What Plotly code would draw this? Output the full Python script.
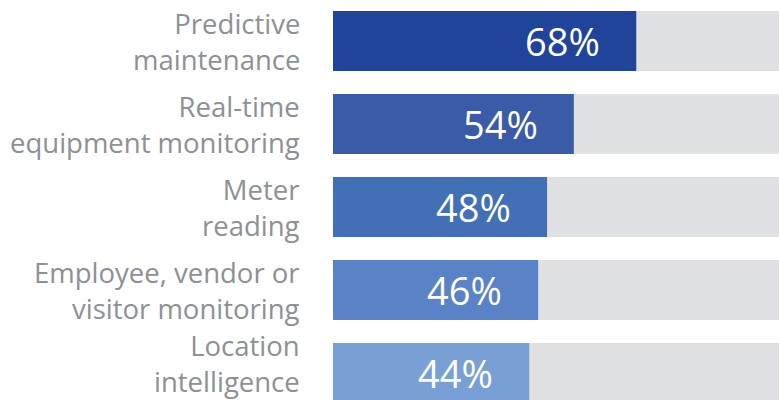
import plotly.graph_objects as go

categories = ["Predictive<br>maintenance", "Real-time<br>equipment monitoring", "Meter<br>reading",
              "Employee, vendor or<br>visitor monitoring", "Location<br>intelligence"]
values = [68, 54, 48, 46, 44]
totals = [100, 100, 100, 100, 100]
colors = ["#21449B", "#3A5BA8", "#426FB5", "#5983C6", "#79A0D4"]
value_labels = [f"{v}%" for v in values]

fig = go.Figure()
fig.add_trace(go.Bar(y=categories, x=totals, orientation="h", marker=dict(color="#E0E1E3", line=dict(width=0)),
                     width=0.723, hoverinfo="skip", showlegend=False))
fig.add_trace(go.Bar(y=categories, x=values, orientation="h", marker=dict(color=colors, line=dict(width=0)),
                     width=0.723, showlegend=False))

for c, v, t in zip(categories, values, value_labels):
    fig.add_annotation(x=v, y=c, text=t, xanchor="right", xshift=-34, showarrow=False,
                       font=dict(family="Open Sans", size=38, color="white"))

# category labels (last one nudged up to stay inside the frame, as in the original)
label_shift = [0, 0, 0, 0, 10]
for c, s in zip(categories, label_shift):
    fig.add_annotation(x=0, xref="paper", y=c, yref="y", text=c, xanchor="right", yanchor="middle",
                       xshift=-31, yshift=s, showarrow=False, align="right",
                       font=dict(family="Open Sans", size=27.5, color="#8D9096"))

fig.update_layout(
    width=779, height=400, barmode="overlay",
    margin=dict(l=333, r=0, t=0, b=0),
    paper_bgcolor="white", plot_bgcolor="white",
    xaxis=dict(range=[0, 100], visible=False, fixedrange=True, automargin=False),
    yaxis=dict(range=[4.325, -0.494], showgrid=False, zeroline=False, showline=False, automargin=False,
               showticklabels=False, fixedrange=True),
)
fig.write_html("out.html", config={"displayModeBar": False},
               post_script="document.body.style.margin='0';")
